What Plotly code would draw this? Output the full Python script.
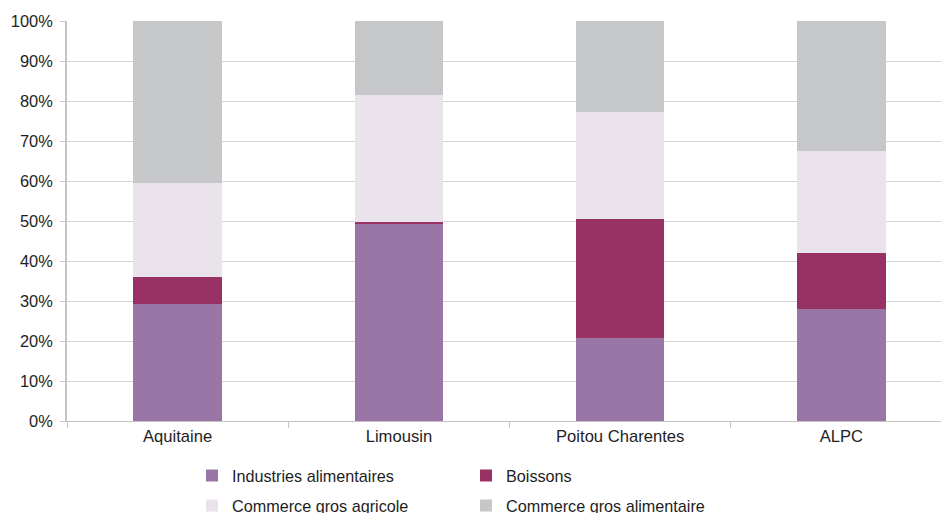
import plotly.graph_objects as go

categories = ["Aquitaine", "Limousin", "Poitou Charentes", "ALPC"]
industries = [0.2925, 0.494, 0.2075, 0.28]
boissons = [0.0675, 0.003, 0.2975, 0.14]
commerce_agricole = [0.235, 0.318, 0.2675, 0.255]
commerce_alimentaire = [0.405, 0.185, 0.2275, 0.325]

series = [
    ("Industries alimentaires", industries, "#9a76a6", "legend"),
    ("Boissons", boissons, "#983264", "legend2"),
    ("Commerce gros agricole", commerce_agricole, "#eae3eb", "legend3"),
    ("Commerce gros alimentaire", commerce_alimentaire, "#c6c7c9", "legend4"),
]

fig = go.Figure()
for name, vals, color, leg in series:
    fig.add_trace(go.Bar(x=categories, y=vals, name=name, marker_color=color,
                         marker_line_width=0, legend=leg, width=0.4))

W, H = 941, 513
L, R, T, B = 67, 0, 21, 92
pw = W - L - R
ph = H - T - B

def px_x(x):
    return (x - L) / pw

def px_y(y):
    return (H - B - y) / ph

legfont = dict(family="Liberation Sans, Arial, sans-serif", size=16.2, color="#1e1e1e")
def leg(xp, yp):
    return dict(x=px_x(xp), y=px_y(yp), xanchor="left", yanchor="middle",
                orientation="h", font=legfont, bgcolor="rgba(0,0,0,0)",
                borderwidth=0, itemwidth=30)

fig.update_layout(
    width=W, height=H,
    margin=dict(l=L, r=R, t=T, b=B, autoexpand=False),
    barmode="stack",
    plot_bgcolor="white", paper_bgcolor="white",
    font=dict(family="Liberation Sans, Arial, sans-serif", size=16, color="#1e1e1e"),
    showlegend=True,
    legend=leg(192, 476),
    legend2=leg(466, 476),
    legend3=leg(192, 506),
    legend4=leg(466, 506),
    xaxis=dict(range=[-0.5, 3.45], showline=True, linecolor="#c4c4c4", linewidth=1,
               ticks="outside", tickson="boundaries", ticklen=6, tickcolor="#c4c4c4",
               showgrid=False, tickfont=dict(size=16.6, color="#1e1e1e"), fixedrange=True),
    yaxis=dict(range=[0, 1], dtick=0.1, tickformat=".0%", showgrid=True,
               gridcolor="#d4d4d4", gridwidth=1, showline=True, linecolor="#c4c4c4",
               linewidth=2, ticks="outside", ticklen=5, tickcolor="#c4c4c4",
               ticklabelstandoff=4,
               zeroline=False, tickfont=dict(size=16.4, color="#1e1e1e"), fixedrange=True),
)

fig.write_html("out.html")
